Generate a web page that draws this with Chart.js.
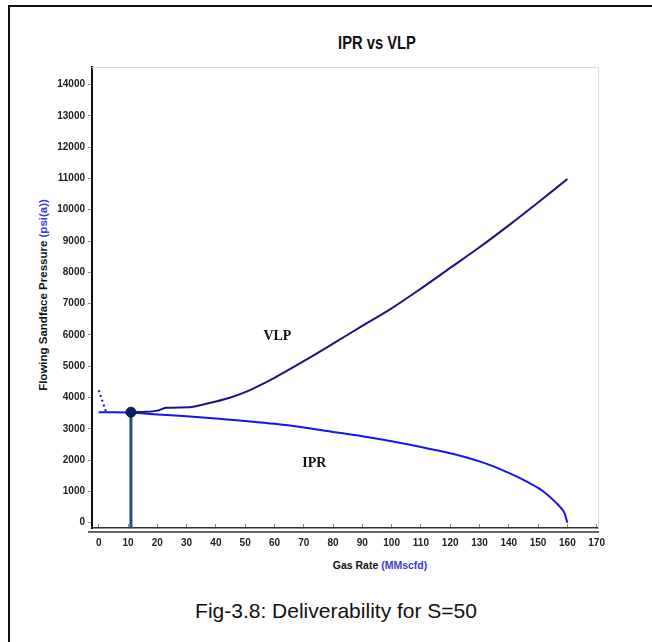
<!DOCTYPE html>
<html>
<head>
<meta charset="utf-8">
<title>IPR vs VLP</title>
<script src="https://cdn.jsdelivr.net/npm/chart.js@4.4.1/dist/chart.umd.min.js"></script>
<style>
  body { margin: 0; width: 652px; height: 642px; background: #fff; position: relative; overflow: hidden; font-family: "Liberation Sans", Arial, sans-serif; }
  .frame { position: absolute; left: 8px; top: 5px; width: 660px; height: 660px; border-top: 2px solid #111; border-left: 2px solid #111; }
  .title { position: absolute; left: 377px; top: 34px; transform: translateX(-50%) scaleX(0.82); font-weight: bold; font-size: 18px; line-height: 18px; color: #111; white-space: nowrap; }
  .ytitle { position: absolute; left: 43px; top: 295px; transform: translate(-50%, -50%) rotate(-90deg); font-weight: bold; font-size: 11.5px; color: #111; white-space: nowrap; }
  .xtitle { position: absolute; left: 380px; top: 565px; transform: translate(-50%, -50%); font-weight: bold; font-size: 10.5px; color: #111; white-space: nowrap; }
  .unit { color: #3b3bd6; }
  .caption { position: absolute; left: 336px; top: 611px; transform: translate(-50%, -50%); font-size: 21px; color: #111; white-space: nowrap; }
  .wrap { position: absolute; left: 50px; top: 58px; width: 568px; height: 500px; }
</style>
</head>
<body>
<div class="frame"></div>
<div class="title">IPR vs VLP</div>
<div class="ytitle">Flowing Sandface Pressure <span class="unit">(psi(a))</span></div>
<div class="xtitle">Gas Rate <span class="unit">(MMscfd)</span></div>
<div class="wrap"><canvas id="chart"></canvas></div>
<div class="caption">Fig-3.8: Deliverability for S=50</div>

<script>
// IPR curve (gas rate MMscfd vs flowing sandface pressure psia)
const iprRates = [0, 5, 10, 20, 30, 40, 50, 60, 70, 80, 90, 100, 110, 120, 125, 130, 135, 140, 145, 150, 153, 156, 158, 159, 160];
const iprPress = [3530, 3530, 3520, 3460, 3400, 3330, 3250, 3160, 3040, 2900, 2760, 2600, 2420, 2220, 2100, 1960, 1790, 1590, 1370, 1110, 910, 650, 450, 310, 0];

// VLP curve
const vlpRates = [11, 15, 20, 23, 31, 35, 40, 45, 50, 55, 60, 70, 80, 90, 100, 110, 120, 130, 140, 150, 160];
const vlpPress = [3530, 3540, 3580, 3670, 3690, 3760, 3870, 4000, 4170, 4390, 4630, 5160, 5720, 6290, 6850, 7480, 8140, 8800, 9500, 10230, 10981];

// unstable part of VLP (dotted)
const dotRates = [0, 2.5];
const dotPress = [4230, 3540];

// operating point
const opRate = 11;
const opPress = 3530;

// axes
const xMin = -2.3, xMax = 170.5;
const yMin = -170, yMax = 14560;
const xTicks = [0, 10, 20, 30, 40, 50, 60, 70, 80, 90, 100, 110, 120, 130, 140, 150, 160, 170];
const yTicks = [0, 1000, 2000, 3000, 4000, 5000, 6000, 7000, 8000, 9000, 10000, 11000, 12000, 13000, 14000];

// curve names written on the plot (data coords)
const curveLabels = [
  { text: 'VLP', x: 61, y: 5950 },
  { text: 'IPR', x: 73.6, y: 1900 }
];

const toPoints = (xs, ys) => xs.map((x, i) => ({ x, y: ys[i] }));

// light frame on top/right, double line under x axis, curve names
const decorations = {
  id: 'decorations',
  afterDraw(chart) {
    const { ctx, chartArea: a, scales } = chart;
    ctx.save();
    ctx.strokeStyle = '#d9d9d9';
    ctx.lineWidth = 1;
    ctx.beginPath();
    ctx.moveTo(a.left, a.top + 0.5);
    ctx.lineTo(a.right + 0.5, a.top + 0.5);
    ctx.lineTo(a.right + 0.5, a.bottom);
    ctx.stroke();

    ctx.strokeStyle = '#333';
    ctx.lineWidth = 1.5;
    ctx.beginPath();
    ctx.moveTo(a.left - 4, a.bottom + 4);
    ctx.lineTo(a.right + 1, a.bottom + 4);
    ctx.stroke();

    ctx.fillStyle = '#111';
    ctx.font = 'bold 14px "Liberation Serif", "Times New Roman", serif';
    ctx.textAlign = 'center';
    ctx.textBaseline = 'middle';
    curveLabels.forEach(l => {
      ctx.fillText(l.text, scales.x.getPixelForValue(l.x), scales.y.getPixelForValue(l.y));
    });
    ctx.restore();
  }
};

const tickFont = { family: '"Liberation Sans", Arial, sans-serif', size: 10, weight: 'bold' };

new Chart(document.getElementById('chart'), {
  type: 'scatter',
  data: {
    datasets: [
      {
        label: 'Operating point',
        data: [{ x: opRate, y: opPress }],
        pointRadius: 5,
        pointBackgroundColor: '#0c1f5e',
        pointBorderColor: '#0a1850',
        pointBorderWidth: 1,
        order: 0
      },
      {
        label: 'Drop line',
        data: [{ x: opRate, y: opPress }, { x: opRate, y: yMin }],
        showLine: true,
        borderColor: '#22507f',
        borderWidth: 3,
        pointRadius: 0,
        order: 1
      },
      {
        label: 'VLP',
        data: toPoints(vlpRates, vlpPress),
        showLine: true,
        cubicInterpolationMode: 'monotone',
        borderColor: '#17177e',
        borderWidth: 2,
        pointRadius: 0,
        order: 2
      },
      {
        label: 'IPR',
        data: toPoints(iprRates, iprPress),
        showLine: true,
        cubicInterpolationMode: 'monotone',
        borderColor: '#1414f5',
        borderWidth: 2,
        pointRadius: 0,
        order: 3
      },
      {
        label: 'VLP unstable',
        data: toPoints(dotRates, dotPress),
        showLine: true,
        borderColor: '#1a1a80',
        borderWidth: 2,
        borderDash: [2, 3],
        pointRadius: 0,
        order: 4
      }
    ]
  },
  options: {
    responsive: true,
    maintainAspectRatio: false,
    animation: false,
    layout: { padding: { top: 5, right: 5, left: 0, bottom: 0 } },
    plugins: {
      legend: { display: false },
      tooltip: { enabled: false }
    },
    scales: {
      x: {
        type: 'linear',
        min: xMin,
        max: xMax,
        afterBuildTicks: (s) => { s.ticks = xTicks.map(v => ({ value: v })); },
        afterFit: (s) => { s.height = 30; },
        border: { display: true, color: '#333', width: 1.5 },
        grid: { drawOnChartArea: false, drawTicks: true, tickLength: -4, color: '#888' },
        ticks: {
          padding: 13,
          maxRotation: 0,
          autoSkip: false,
          color: '#222',
          font: tickFont,
          callback: (v) => String(v)
        }
      },
      y: {
        type: 'linear',
        min: yMin,
        max: yMax,
        afterBuildTicks: (s) => { s.ticks = yTicks.map(v => ({ value: v })); },
        afterFit: (s) => { s.width = 42; },
        border: { display: true, color: '#111', width: 2 },
        grid: { drawOnChartArea: false, drawTicks: true, tickLength: 4, color: '#888' },
        ticks: {
          padding: 3,
          autoSkip: false,
          color: '#222',
          font: tickFont,
          callback: (v) => String(v)
        }
      }
    }
  },
  plugins: [decorations]
});
</script>
</body>
</html>
